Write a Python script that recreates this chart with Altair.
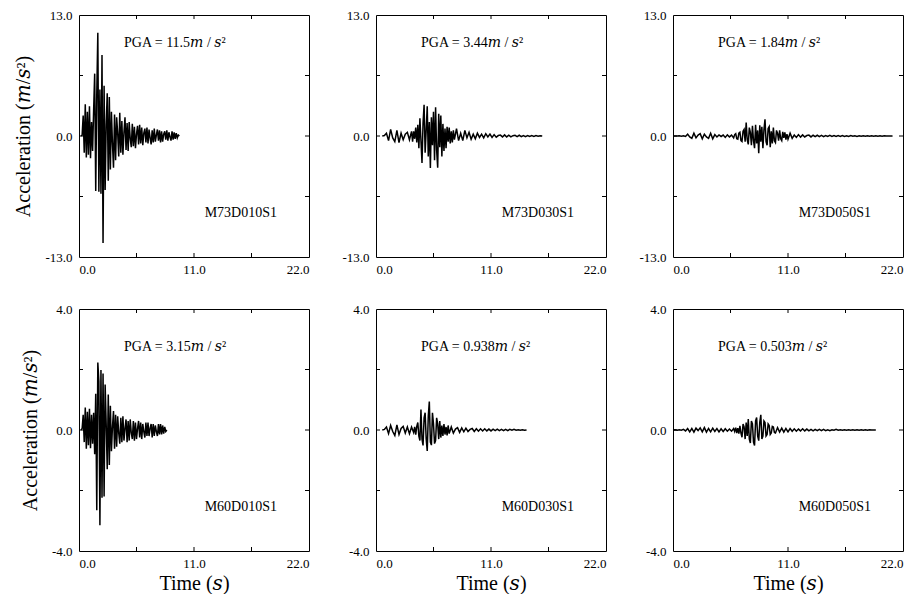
import altair as alt
import pandas as pd

FONT = "Liberation Serif"
TFONT = "Liberation Serif, DejaVu Serif, serif"
M = "\U0001D45A"  # math italic m
S = "\U0001D460"  # math italic s

# ---- labels ----
names = ["M73D010S1", "M73D030S1", "M73D050S1", "M60D010S1", "M60D030S1", "M60D050S1"]
pga_values = ["11.5", "3.44", "1.84", "3.15", "0.938", "0.503"]
y_limits = [13.0, 13.0, 13.0, 4.0, 4.0, 4.0]

# ---- acceleration records (m/s^2), stored as segments: start time, sample step, values ----
m73d010 = [0.0, 0.1, 2.2, -1.8, 3.4, -2.3, 2.6, -2.0, 3.2, -2.4, 1.5, -1.6, 2.8,
           6.7, -5.9, 4.5, 11.1, -6.0, 5.0, -6.2, 8.7, -11.5, 5.4,
           -5.8, 1.2, 4.6, -4.8, 4.2, -3.6, 2.6, -0.8, -3.4, 2.3,
           -2.6, 2.0, 0.3, -2.2, 2.5, -1.8, 1.6, -2.0, 0.4, 2.0,
           -1.5, 1.4, -1.6, 1.5, -0.3, -1.2, 1.3, -1.1, 1.0, -1.3,
           0.2, 1.1, -0.9, 1.2, -0.8, 0.9, -1.0, 0.3, 0.8, -0.7,
           0.9, -0.8, 0.7, -0.2, -0.9, 0.6, -0.7, 0.8, -0.6, 0.1,
           0.7, -0.5, 0.6, -0.7, 0.5, -0.6, 0.2, 0.5, -0.4, 0.6,
           -0.5, 0.4, -0.1, -0.5, 0.5, -0.4, 0.4, -0.3, 0.3, -0.2,
           0.1, 0.0]

m73d030_pre = [0.0, 0.05, 0.3, -0.5, 0.7, -0.2, -0.6, 0.6, -0.7, 0.3, -0.4, 0.2, 0.4, -0.4, 0.5]
m73d030_main = [-0.6, 0.5, -0.3, 0.9, -0.7, 1.2, -1.3, 1.9, -0.5, -2.9,
                1.4, 3.35, -1.8, 0.6, 3.2, -2.2, 1.5, -3.44, 2.0, -1.0,
                2.6, -2.6, 3.1, -1.5, -3.4, 2.4, -1.2, 2.2, -2.2, 1.3,
                -1.6, 0.8, -1.3, 1.0, -0.6, 0.9, -0.8, 0.5, -0.7, 0.6]
m73d030_post = [-0.4, 0.8, -0.5, 0.3, -0.5, 0.6, -0.2, 0.4, -0.35, 0.2, -0.3, 0.3, -0.15,
                0.2, -0.2, 0.25, -0.1, 0.2, -0.15, 0.15, -0.12, 0.05, 0.1, -0.1, 0.12, -0.1,
                0.08, -0.1, 0.03, 0.08, -0.06, 0.08, -0.06, 0.05, -0.06, 0.05, -0.05, 0.04,
                -0.04, 0.04, -0.03, 0.02, 0.0]

m73d050_pre = [0.0, 0.01, -0.01, 0.02, -0.02, 0.03, -0.05, 0.2, -0.1, -0.25, 0.3, -0.2, 0.1,
               0.25, -0.3, 0.2, -0.1, -0.25, 0.3, -0.3, 0.15, -0.1, 0.12, -0.05, 0.1, -0.15,
               0.12, -0.1, 0.1]
m73d050_main = [-0.2, 0.15, 0.25, -0.3, -0.35, 0.3, 0.4, -0.5, -0.6, 0.5,
                0.7, -0.6, 1.45, -0.4, -0.9, 0.9, 0.4, -1.0, 1.1, -0.5,
                -1.3, 1.2, -0.8, 0.6, -1.84, 1.15, -0.6, 1.0, -1.3, 0.7,
                1.8, -0.6, -1.0, 0.8, 1.0, -1.2, 0.5, -0.8, 0.9, -0.5,
                -0.7, 0.6, 0.3, -0.5, 0.6, -0.3, -0.5, 0.45, -0.2, 0.4,
                -0.4, 0.2]
m73d050_post = [-0.35, 0.3, -0.25, 0.1, -0.15, 0.15, -0.12, 0.12, -0.1, 0.05, 0.1, -0.1, 0.08,
                -0.07, 0.08, -0.06, 0.06, -0.07, 0.05, -0.05, 0.06, -0.05, 0.04, -0.05, 0.04,
                -0.04, 0.05, -0.04, 0.03, -0.04, 0.04, -0.03, 0.03, -0.04, 0.03, -0.03, 0.03,
                -0.02, 0.03, -0.03, 0.02, -0.02, 0.03, -0.02, 0.02, -0.02, 0.02, -0.01, 0.01,
                -0.01, 0.0]

m60d010 = [0.0, 0.05, 0.5, -0.4, 0.74, -0.62, 0.6, -0.5, 0.7, -0.6, 0.5, -0.45, 0.57,
           -0.8, 1.2, -2.65, 2.23, 1.6, -3.15, 1.98, -2.24, 1.87, -2.2,
           1.5, 0.2, -1.3, 1.17, -1.16, 0.8, -0.7, 0.1, 0.63, -0.62,
           0.5, -0.55, 0.45, -0.1, -0.45, 0.4, -0.4, 0.45, -0.35, 0.05,
           0.35, -0.4, 0.3, -0.35, 0.35, -0.1, -0.3, 0.3, -0.35, 0.25,
           -0.3, 0.05, 0.3, -0.25, 0.25, -0.3, 0.2, -0.05, -0.25, 0.25,
           -0.2, 0.25, -0.2, 0.05, 0.2, -0.25, 0.2, -0.2, 0.15, -0.05,
           -0.2, 0.2, -0.15, 0.2, -0.15, 0.15, -0.12, 0.1, -0.05, 0.0]

m60d030_pre = [0.0, 0.02, 0.1, -0.12, 0.15, -0.05, -0.18, 0.17, -0.15, 0.05, 0.12, -0.1, 0.1,
               -0.12, 0.1, -0.08]
m60d030_main = [0.1, -0.15, 0.12, 0.25, -0.2, -0.35, 0.68, -0.3, -0.51, 0.4,
                0.57, -0.3, -0.69, 0.45, 0.938, -0.4, -0.5, 0.57, 0.2, -0.45,
                -0.35, 0.4, 0.2, -0.3, 0.3, -0.25, 0.15, -0.2, 0.2, -0.15,
                0.1, -0.18, 0.15, -0.12]
m60d030_post = [0.1, -0.1, 0.03, 0.08, -0.08, 0.07, -0.06, 0.06, -0.05, 0.02, 0.05, -0.05, 0.04,
                -0.04, 0.04, -0.03, 0.04, -0.03, 0.03, -0.03, 0.03, -0.02, 0.03, -0.02, 0.02,
                -0.02, 0.02, -0.02, 0.02, -0.01, 0.02, -0.01, 0.01, -0.01, 0.01, -0.01, 0.0]

m60d050_pre = [0.0, 0.01, -0.01, 0.01, -0.01, 0.02, -0.03, 0.05, -0.06, 0.05, -0.07, 0.06,
               -0.02, 0.07, -0.06, 0.08, -0.07, 0.05, -0.06, 0.06, -0.05, 0.05, -0.06, 0.04,
               -0.05, 0.04, -0.04, 0.03, -0.04, 0.05]
m60d050_main = [-0.05, 0.08, -0.1, 0.06, -0.12, 0.14, -0.1, -0.24, 0.2, 0.1,
                -0.3, 0.25, -0.2, 0.36, -0.3, -0.43, 0.3, 0.2, -0.4, -0.51,
                0.3, 0.41, -0.2, -0.35, 0.25, 0.503, -0.3, -0.2, 0.3, 0.25,
                -0.2, -0.15, 0.2, 0.15, -0.15, -0.1, 0.12, 0.1, -0.08, -0.1]
m60d050_post = [0.08, -0.07, 0.06, -0.07, 0.05, -0.06, 0.05, -0.04, 0.04, -0.04, 0.03, -0.03,
                0.04, -0.03, 0.03, -0.03, 0.02, -0.03, 0.02, -0.02, 0.02, -0.02, 0.02, -0.02,
                0.01, -0.02, 0.01, -0.01, 0.02, -0.01, 0.01, -0.01, 0.01, -0.01, 0.01, -0.01,
                0.01, -0.01, 0.01, -0.01, 0.01, -0.01, 0.01, -0.01, 0.01, 0.0, 0.0, 0.0]

records = [
    [(0.2, 0.1, m73d010)],
    [(0.6, 0.2, m73d030_pre), (3.5, 0.1, m73d030_main), (7.5, 0.2, m73d030_post)],
    [(0.0, 0.2, m73d050_pre), (5.8, 0.1, m73d050_main), (11.0, 0.2, m73d050_post)],
    [(0.2, 0.1, m60d010)],
    [(0.6, 0.2, m60d030_pre), (3.7, 0.1, m60d030_main), (7.2, 0.2, m60d030_post)],
    [(0.0, 0.2, m60d050_pre), (5.9, 0.1, m60d050_main), (10.0, 0.2, m60d050_post)],
]

x_tick_values = [0.0, 5.5, 11.0, 16.5, 22.0]
x_inner_ticks = [5.5, 11.0, 16.5]

W, H = 230, 242
X_TITLE = f"Time ({S})"
Y_TITLE = f"Acceleration ({M}/{S}\u00b2)"


def panel(k, show_y, show_x):
    ts, vs = [], []
    for t0, dt, vals in records[k]:
        ts += [round(t0 + i * dt, 3) for i in range(len(vals))]
        vs += vals
    df = pd.DataFrame({"t": ts, "a": vs})
    ymax = y_limits[k]
    xs = alt.Scale(domain=[0, 22], nice=False, zero=False)
    ys = alt.Scale(domain=[-ymax, ymax], nice=False, zero=False)
    lab = "(datum.value < 0 ? '-' : '') + format(abs(datum.value), '.1f')"
    xkw = dict(values=x_tick_values,
               labelExpr=f"(datum.value == 0 || datum.value == 11 || datum.value == 22) ? {lab} : ''",
               title=X_TITLE if show_x else "")
    ykw = dict(values=[-ymax, -ymax / 2, 0.0, ymax / 2, ymax],
               labelExpr=f"(datum.value == 0 || abs(datum.value) == {ymax}) ? {lab} : ''",
               title=Y_TITLE if show_y else "")
    xenc = alt.X("t:Q", scale=xs, axis=alt.Axis(**xkw))
    yenc = alt.Y("a:Q", scale=ys, axis=alt.Axis(**ykw))

    line = alt.Chart(df).mark_line(color="black", strokeWidth=1.5).encode(x=xenc, y=yenc)
    xt = pd.DataFrame({"t": x_inner_ticks})
    yt = pd.DataFrame({"a": [-ymax / 2, 0.0, ymax / 2]})
    tick_top = alt.Chart(xt).mark_rule(color="black").encode(
        x=xenc, y=alt.value(0), y2=alt.value(4))
    tick_bot = alt.Chart(xt).mark_rule(color="black").encode(
        x=xenc, y=alt.value(H - 4), y2=alt.value(H))
    tick_left = alt.Chart(yt).mark_rule(color="black").encode(
        y=yenc, x=alt.value(0), x2=alt.value(4))
    tick_right = alt.Chart(yt).mark_rule(color="black").encode(
        y=yenc, x=alt.value(W - 4), x2=alt.value(W))

    pga_y = 28 if ymax > 5 else 38
    pga = alt.Chart(pd.DataFrame({"s": [f"PGA = {pga_values[k]}{M} / {S}\u00b2"]})).mark_text(
        align="left", baseline="middle", font=TFONT, fontSize=14, color="black"
    ).encode(x=alt.value(45), y=alt.value(pga_y), text="s:N")
    nm = alt.Chart(pd.DataFrame({"s": [names[k]]})).mark_text(
        align="right", baseline="middle", font=FONT, fontSize=14, color="black"
    ).encode(x=alt.value(198), y=alt.value(round(0.82 * H)), text="s:N")

    return alt.layer(line, tick_top, tick_bot, tick_left, tick_right, pga, nm).properties(
        width=W, height=H)


panels = [panel(0, True, False), panel(1, False, False), panel(2, False, False),
          panel(3, True, True), panel(4, False, True), panel(5, False, True)]

chart = alt.concat(*panels, columns=3, spacing={"row": 25, "column": 31}).properties(
    padding={"left": 5, "top": 0, "right": 0, "bottom": 0}
).configure_view(
    stroke="black", strokeWidth=1
).configure_axis(
    labelFont=FONT, labelFontSize=13, labelColor="black",
    titleFont=TFONT, titleFontSize=20, titleFontWeight="normal", titleColor="black",
    grid=False, domain=False, tickSize=0
).configure_axisX(
    labelPadding=6, titlePadding=3
).configure_axisY(
    labelPadding=7, titlePadding=11
)

chart.save("out.html", embed_options={"renderer": "svg", "actions": False})
